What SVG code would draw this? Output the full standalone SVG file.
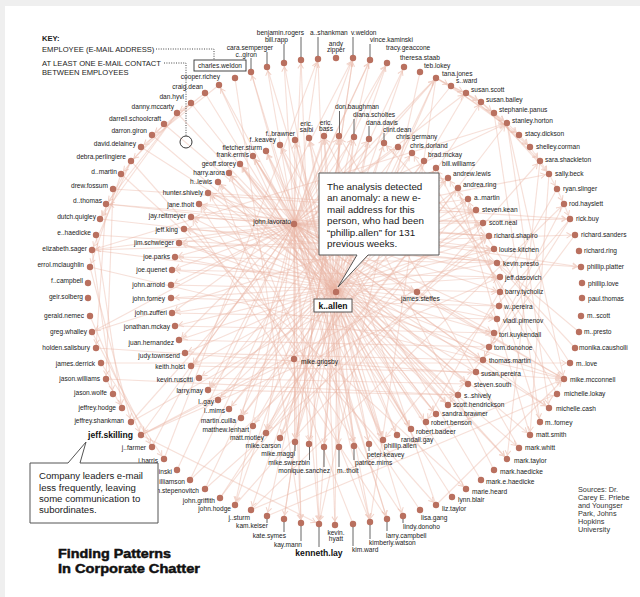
<svg xmlns="http://www.w3.org/2000/svg" width="640" height="597" viewBox="0 0 640 597">
<defs>
<style>
text{font-family:"Liberation Sans",Arial,Helvetica,sans-serif;fill:#222}
.l{font-size:6.6px}
.r{text-anchor:end}
.m{text-anchor:middle}
.b{font-weight:bold;font-size:8.6px;fill:#111}
.n circle{fill:#b9705f}
.ld{stroke:#555;stroke-width:0.9}
.e line{stroke:#e9b5a5;stroke-opacity:0.42;stroke-width:1.15;marker-end:url(#ah)}
.key{font-size:7.6px;fill:#222}
.dot{fill:none;stroke:#333;stroke-width:0.9;stroke-dasharray:1 1.4}
.co{fill:#fff;stroke:#555;stroke-width:1}
.ct{font-size:9.8px;fill:#1a1a1a}
.cl{font-size:9.6px;fill:#1a1a1a}
.src{font-size:7.3px;fill:#333}
.ttl{font-size:13px;font-weight:bold;fill:#111;stroke:#111;stroke-width:0.5}
</style>
<marker id="ah" markerUnits="userSpaceOnUse" markerWidth="10" markerHeight="10" refX="9" refY="5" orient="auto" overflow="visible">
<path d="M0.5,2.2 L5,5 L0.5,7.8" fill="none" stroke="#f1d2c8" stroke-width="1"/>
</marker>
</defs>

<rect width="640" height="597" fill="#efefef"/>
<rect x="5" y="6" width="635" height="591" fill="#fff"/>

<!-- e-mail contacts between employees -->
<g id="connectors" class="e">
<!-- john.lavorato fan -->
<line x1="294" y1="224" x2="267" y2="67"/><line x1="294" y1="224" x2="284" y2="63"/><line x1="294" y1="224" x2="301" y2="60"/><line x1="294" y1="224" x2="318" y2="59"/><line x1="294" y1="224" x2="353" y2="58"/><line x1="294" y1="224" x2="370" y2="60"/><line x1="294" y1="224" x2="387" y2="63"/><line x1="294" y1="224" x2="251" y2="72"/><line x1="294" y1="224" x2="219" y2="85"/><line x1="294" y1="224" x2="436" y2="78"/><line x1="294" y1="224" x2="466" y2="93"/><line x1="294" y1="224" x2="507" y2="123"/>
<line x1="294" y1="224" x2="339" y2="136"/><line x1="294" y1="224" x2="354" y2="137"/><line x1="294" y1="224" x2="369" y2="139"/><line x1="294" y1="224" x2="398" y2="147"/><line x1="294" y1="224" x2="295" y2="140"/><line x1="294" y1="224" x2="324" y2="136"/><line x1="294" y1="224" x2="266" y2="151"/><line x1="294" y1="224" x2="253" y2="156"/><line x1="294" y1="224" x2="240" y2="164"/><line x1="294" y1="224" x2="208" y2="193"/><line x1="294" y1="224" x2="199" y2="204"/><line x1="294" y1="224" x2="191" y2="217"/><line x1="294" y1="224" x2="184" y2="229"/><line x1="294" y1="224" x2="179" y2="243"/><line x1="294" y1="224" x2="175" y2="257"/><line x1="294" y1="224" x2="172" y2="270"/><line x1="294" y1="224" x2="171" y2="285"/>
<line x1="294" y1="224" x2="448" y2="178"/><line x1="294" y1="224" x2="468" y2="199"/><line x1="294" y1="224" x2="476" y2="210"/><line x1="294" y1="224" x2="483" y2="223"/><line x1="294" y1="224" x2="489" y2="236"/><line x1="294" y1="224" x2="494" y2="249"/><line x1="294" y1="224" x2="497" y2="263"/><line x1="294" y1="224" x2="500" y2="277"/><line x1="294" y1="224" x2="500" y2="292"/><line x1="294" y1="224" x2="497" y2="319"/><line x1="294" y1="224" x2="494" y2="333"/><line x1="294" y1="224" x2="483" y2="360"/><line x1="294" y1="224" x2="468" y2="384"/><line x1="294" y1="224" x2="448" y2="405"/>
<line x1="294" y1="224" x2="411" y2="429"/><line x1="294" y1="224" x2="383" y2="440"/><line x1="294" y1="224" x2="354" y2="446"/><line x1="294" y1="224" x2="309" y2="444"/><line x1="294" y1="224" x2="295" y2="442"/><line x1="294" y1="224" x2="266" y2="433"/><line x1="294" y1="224" x2="241" y2="418"/><line x1="294" y1="224" x2="208" y2="390"/><line x1="294" y1="224" x2="191" y2="366"/><line x1="294" y1="224" x2="179" y2="340"/><line x1="294" y1="224" x2="172" y2="313"/>
<line x1="294" y1="224" x2="319" y2="524"/><line x1="294" y1="224" x2="370" y2="522"/><line x1="294" y1="224" x2="387" y2="519"/><line x1="294" y1="224" x2="301" y2="523"/><line x1="294" y1="224" x2="235" y2="505"/><line x1="294" y1="224" x2="141" y2="435"/><line x1="294" y1="224" x2="92" y2="332"/><line x1="294" y1="224" x2="92" y2="250"/><line x1="294" y1="224" x2="106" y2="204"/><line x1="294" y1="224" x2="570" y2="219"/><line x1="294" y1="224" x2="564" y2="379"/><line x1="294" y1="224" x2="549" y2="174"/><line x1="294" y1="224" x2="581" y2="267"/><line x1="294" y1="224" x2="549" y2="408"/><line x1="294" y1="224" x2="507" y2="459"/>
<line x1="294" y1="224" x2="294" y2="359"/><line x1="294" y1="224" x2="336" y2="292"/><line x1="294" y1="224" x2="417" y2="292"/>
<!-- left side of the outer ring -->
<line x1="191" y1="103" x2="131" y2="161"/><line x1="177" y1="113" x2="106" y2="204"/><line x1="177" y1="113" x2="100" y2="219"/><line x1="164" y1="124" x2="121" y2="174"/><line x1="131" y1="161" x2="92" y2="250"/><line x1="131" y1="161" x2="100" y2="219"/><line x1="121" y1="174" x2="90" y2="267"/><line x1="113" y1="189" x2="106" y2="379"/><line x1="106" y1="204" x2="96" y2="348"/><line x1="96" y1="235" x2="122" y2="408"/><line x1="92" y1="250" x2="113" y2="394"/><line x1="90" y1="267" x2="131" y2="422"/><line x1="90" y1="316" x2="141" y2="435"/><line x1="92" y1="332" x2="152" y2="447"/><line x1="101" y1="363" x2="164" y2="459"/><line x1="106" y1="379" x2="122" y2="408"/><line x1="219" y1="85" x2="141" y2="147"/><line x1="205" y1="93" x2="152" y2="135"/><line x1="191" y1="103" x2="177" y2="113"/>
<!-- long chords across the ring -->
<line x1="113" y1="189" x2="570" y2="219"/><line x1="92" y1="250" x2="575" y2="235"/><line x1="92" y1="250" x2="507" y2="123"/><line x1="90" y1="267" x2="564" y2="379"/><line x1="106" y1="204" x2="489" y2="236"/><line x1="100" y1="219" x2="497" y2="263"/><line x1="96" y1="235" x2="581" y2="267"/><line x1="92" y1="332" x2="476" y2="210"/><line x1="96" y1="348" x2="564" y2="379"/><line x1="101" y1="363" x2="570" y2="363"/><line x1="106" y1="379" x2="458" y2="395"/><line x1="131" y1="422" x2="483" y2="223"/><line x1="131" y1="422" x2="436" y2="78"/><line x1="141" y1="435" x2="500" y2="277"/><line x1="141" y1="435" x2="494" y2="249"/><line x1="141" y1="435" x2="319" y2="524"/><line x1="152" y1="447" x2="353" y2="58"/><line x1="164" y1="459" x2="318" y2="59"/><line x1="177" y1="470" x2="370" y2="60"/><line x1="190" y1="480" x2="387" y2="63"/><line x1="205" y1="489" x2="404" y2="67"/><line x1="205" y1="489" x2="489" y2="236"/><line x1="190" y1="480" x2="476" y2="210"/><line x1="220" y1="498" x2="507" y2="123"/><line x1="220" y1="498" x2="481" y2="102"/><line x1="235" y1="505" x2="540" y2="161"/><line x1="251" y1="510" x2="564" y2="379"/><line x1="251" y1="510" x2="564" y2="204"/><line x1="267" y1="516" x2="557" y2="394"/><line x1="284" y1="519" x2="353" y2="58"/>
<line x1="301" y1="60" x2="319" y2="524"/><line x1="318" y1="59" x2="335" y2="525"/><line x1="284" y1="63" x2="370" y2="522"/><line x1="251" y1="72" x2="387" y2="519"/><line x1="267" y1="67" x2="403" y2="516"/><line x1="235" y1="78" x2="301" y2="523"/><line x1="353" y1="58" x2="284" y2="519"/><line x1="370" y1="60" x2="267" y2="516"/><line x1="387" y1="63" x2="235" y2="505"/><line x1="404" y1="67" x2="251" y2="510"/><line x1="420" y1="72" x2="319" y2="524"/><line x1="436" y1="78" x2="370" y2="522"/><line x1="436" y1="78" x2="280" y2="438"/><line x1="466" y1="93" x2="266" y2="433"/><line x1="451" y1="86" x2="208" y2="390"/><line x1="219" y1="85" x2="383" y2="440"/><line x1="205" y1="93" x2="411" y2="429"/><line x1="191" y1="103" x2="436" y2="414"/><line x1="177" y1="113" x2="507" y2="459"/><line x1="164" y1="124" x2="530" y2="435"/><line x1="152" y1="135" x2="519" y2="448"/><line x1="141" y1="147" x2="549" y2="408"/><line x1="131" y1="161" x2="436" y2="505"/><line x1="121" y1="174" x2="466" y2="489"/>
<!-- right side of the outer ring -->
<line x1="436" y1="78" x2="451" y2="86"/><line x1="451" y1="86" x2="466" y2="93"/><line x1="466" y1="93" x2="481" y2="102"/><line x1="481" y1="102" x2="494" y2="113"/><line x1="494" y1="113" x2="507" y2="123"/><line x1="507" y1="123" x2="519" y2="135"/><line x1="519" y1="135" x2="530" y2="147"/><line x1="530" y1="147" x2="540" y2="161"/><line x1="540" y1="161" x2="549" y2="174"/><line x1="549" y1="174" x2="557" y2="189"/><line x1="557" y1="189" x2="564" y2="204"/><line x1="564" y1="204" x2="570" y2="219"/><line x1="436" y1="78" x2="507" y2="123"/><line x1="451" y1="86" x2="519" y2="135"/><line x1="466" y1="93" x2="530" y2="147"/><line x1="481" y1="102" x2="540" y2="161"/><line x1="494" y1="113" x2="549" y2="174"/><line x1="436" y1="78" x2="481" y2="102"/>
<line x1="507" y1="123" x2="564" y2="379"/><line x1="507" y1="123" x2="549" y2="408"/><line x1="494" y1="113" x2="540" y2="422"/><line x1="540" y1="161" x2="507" y2="459"/><line x1="549" y1="174" x2="530" y2="435"/><line x1="570" y1="219" x2="489" y2="347"/><line x1="564" y1="204" x2="483" y2="360"/><line x1="575" y1="235" x2="448" y2="405"/><line x1="570" y1="219" x2="383" y2="440"/><line x1="557" y1="189" x2="426" y2="422"/><line x1="570" y1="363" x2="448" y2="178"/><line x1="564" y1="379" x2="412" y2="153"/><line x1="575" y1="348" x2="384" y2="143"/><line x1="579" y1="332" x2="497" y2="263"/><line x1="557" y1="394" x2="436" y2="168"/><line x1="540" y1="422" x2="468" y2="199"/><line x1="530" y1="435" x2="458" y2="188"/><line x1="519" y1="448" x2="339" y2="136"/><line x1="494" y1="470" x2="324" y2="136"/><line x1="481" y1="480" x2="280" y2="145"/><line x1="466" y1="489" x2="253" y2="156"/><line x1="452" y1="497" x2="240" y2="164"/><line x1="436" y1="505" x2="309" y2="138"/><line x1="420" y1="510" x2="208" y2="193"/><line x1="403" y1="516" x2="199" y2="204"/><line x1="387" y1="519" x2="191" y2="217"/><line x1="370" y1="522" x2="229" y2="173"/><line x1="353" y1="524" x2="218" y2="182"/><line x1="335" y1="525" x2="339" y2="136"/><line x1="436" y1="505" x2="564" y2="379"/>
<!-- chords of the inner ring -->
<line x1="208" y1="193" x2="476" y2="210"/><line x1="199" y1="204" x2="483" y2="223"/><line x1="191" y1="217" x2="489" y2="236"/><line x1="184" y1="229" x2="494" y2="249"/><line x1="179" y1="243" x2="564" y2="379"/><line x1="175" y1="257" x2="497" y2="263"/><line x1="172" y1="270" x2="500" y2="277"/><line x1="171" y1="285" x2="500" y2="292"/><line x1="171" y1="298" x2="499" y2="306"/><line x1="172" y1="313" x2="497" y2="319"/><line x1="175" y1="326" x2="494" y2="333"/><line x1="179" y1="340" x2="489" y2="347"/><line x1="185" y1="353" x2="483" y2="360"/><line x1="191" y1="366" x2="476" y2="372"/><line x1="199" y1="378" x2="468" y2="384"/><line x1="208" y1="390" x2="458" y2="395"/>
<line x1="218" y1="400" x2="412" y2="153"/><line x1="229" y1="409" x2="424" y2="161"/><line x1="241" y1="418" x2="436" y2="168"/><line x1="253" y1="426" x2="448" y2="178"/><line x1="266" y1="433" x2="458" y2="188"/><line x1="280" y1="438" x2="468" y2="199"/><line x1="295" y1="442" x2="384" y2="143"/><line x1="309" y1="444" x2="369" y2="139"/><line x1="324" y1="447" x2="354" y2="137"/><line x1="339" y1="447" x2="339" y2="136"/><line x1="354" y1="446" x2="324" y2="136"/><line x1="369" y1="444" x2="309" y2="138"/><line x1="383" y1="440" x2="295" y2="140"/><line x1="397" y1="435" x2="280" y2="145"/><line x1="411" y1="429" x2="266" y2="151"/><line x1="426" y1="422" x2="253" y2="156"/><line x1="436" y1="414" x2="240" y2="164"/><line x1="448" y1="405" x2="229" y2="173"/><line x1="458" y1="395" x2="218" y2="182"/><line x1="468" y1="384" x2="208" y2="193"/><line x1="476" y1="372" x2="199" y2="204"/><line x1="483" y1="360" x2="191" y2="217"/><line x1="489" y1="347" x2="184" y2="229"/><line x1="494" y1="333" x2="179" y2="243"/><line x1="497" y1="319" x2="175" y2="257"/><line x1="499" y1="306" x2="172" y2="270"/><line x1="500" y1="277" x2="171" y2="298"/><line x1="497" y1="263" x2="172" y2="313"/><line x1="494" y1="249" x2="175" y2="326"/><line x1="489" y1="236" x2="179" y2="340"/><line x1="483" y1="223" x2="185" y2="353"/><line x1="476" y1="210" x2="191" y2="366"/><line x1="468" y1="199" x2="199" y2="378"/><line x1="458" y1="188" x2="208" y2="390"/><line x1="448" y1="178" x2="218" y2="400"/><line x1="436" y1="168" x2="229" y2="409"/><line x1="424" y1="161" x2="241" y2="418"/><line x1="412" y1="153" x2="253" y2="426"/><line x1="398" y1="147" x2="266" y2="433"/><line x1="384" y1="143" x2="280" y2="438"/><line x1="369" y1="139" x2="295" y2="442"/><line x1="354" y1="137" x2="309" y2="444"/><line x1="339" y1="136" x2="324" y2="447"/><line x1="324" y1="136" x2="339" y2="447"/><line x1="309" y1="138" x2="354" y2="446"/><line x1="295" y1="140" x2="369" y2="444"/><line x1="280" y1="145" x2="383" y2="440"/><line x1="266" y1="151" x2="397" y2="435"/><line x1="253" y1="156" x2="411" y2="429"/><line x1="240" y1="164" x2="426" y2="422"/><line x1="229" y1="173" x2="436" y2="414"/><line x1="218" y1="182" x2="448" y2="405"/>
<!-- central nodes -->
<line x1="436" y1="78" x2="336" y2="292"/><line x1="336" y1="292" x2="319" y2="524"/><line x1="294" y1="359" x2="295" y2="442"/><line x1="294" y1="359" x2="301" y2="523"/><line x1="417" y1="292" x2="489" y2="236"/><line x1="417" y1="292" x2="564" y2="379"/><line x1="141" y1="435" x2="294" y2="359"/><line x1="92" y1="250" x2="417" y2="292"/>
</g>

<!-- key -->
<g id="key">
<text x="42" y="41" class="key" font-weight="bold">KEY:</text>
<text x="42" y="52" class="key">EMPLOYEE (E-MAIL ADDRESS)</text>
<text x="42" y="66" class="key">AT LEAST ONE E-MAIL CONTACT</text>
<text x="42" y="75" class="key">BETWEEN EMPLOYEES</text>
<path class="dot" d="M156,49 H214 V60"/>
<path class="dot" d="M164,63 H186 V136"/>
<circle cx="186" cy="142" r="6" fill="none" stroke="#222" stroke-width="0.9"/>
</g>

<!-- outer ring of employees -->
<g class="n">
<g id="cooper.richey"><circle cx="219" cy="85" r="3.2"/><text class="l r" x="220" y="79.3">cooper.richey</text></g>
<g id="craig.dean"><circle cx="205" cy="93" r="3.2"/><text class="l r" x="203" y="89.3">craig.dean</text></g>
<g id="dan.hyvl"><circle cx="191" cy="103" r="3.2"/><text class="l r" x="184" y="99.3">dan.hyvl</text></g>
<g id="danny.mccarty"><circle cx="177" cy="113" r="3.2"/><text class="l r" x="174" y="109.3">danny.mccarty</text></g>
<g id="darrell.schoolcraft"><circle cx="164" cy="124" r="3.2"/><text class="l r" x="161" y="121.3">darrell.schoolcraft</text></g>
<g id="darron.giron"><circle cx="152" cy="135" r="3.2"/><text class="l r" x="147" y="133.3">darron.giron</text></g>
<g id="david.delainey"><circle cx="141" cy="147" r="3.2"/><text class="l r" x="136" y="146.3">david.delainey</text></g>
<g id="debra.perlingiere"><circle cx="131" cy="161" r="3.2"/><text class="l r" x="126" y="159.3">debra.perlingiere</text></g>
<g id="d..martin"><circle cx="121" cy="174" r="3.2"/><text class="l r" x="117" y="173.6">d..martin</text></g>
<g id="drew.fossum"><circle cx="113" cy="189" r="3.2"/><text class="l r" x="108" y="188">drew.fossum</text></g>
<g id="d..thomas"><circle cx="106" cy="204" r="3.2"/><text class="l r" x="102" y="203">d..thomas</text></g>
<g id="dutch.quigley"><circle cx="100" cy="219" r="3.2"/><text class="l r" x="96" y="219">dutch.quigley</text></g>
<g id="e..haedicke"><circle cx="96" cy="235" r="3.2"/><text class="l r" x="91" y="234.6">e..haedicke</text></g>
<g id="elizabeth.sager"><circle cx="92" cy="250" r="3.2"/><text class="l r" x="87" y="251.3">elizabeth.sager</text></g>
<g id="errol.mclaughlin"><circle cx="90" cy="267" r="3.2"/><text class="l r" x="84" y="266.6">errol.mclaughlin</text></g>
<g id="f..campbell"><circle cx="88" cy="283" r="3.2"/><text class="l r" x="83" y="283">f..campbell</text></g>
<g id="geir.solberg"><circle cx="88" cy="298" r="3.2"/><text class="l r" x="83" y="299">geir.solberg</text></g>
<g id="gerald.nemec"><circle cx="90" cy="316" r="3.2"/><text class="l r" x="84" y="318">gerald.nemec</text></g>
<g id="greg.whalley"><circle cx="92" cy="332" r="3.2"/><text class="l r" x="87" y="334">greg.whalley</text></g>
<g id="holden.salisbury"><circle cx="96" cy="348" r="3.2"/><text class="l r" x="90" y="350.3">holden.salisbury</text></g>
<g id="james.derrick"><circle cx="101" cy="363" r="3.2"/><text class="l r" x="95" y="365.6">james.derrick</text></g>
<g id="jason.williams"><circle cx="106" cy="379" r="3.2"/><text class="l r" x="100" y="381">jason.williams</text></g>
<g id="jason.wolfe"><circle cx="113" cy="394" r="3.2"/><text class="l r" x="107" y="395.3">jason.wolfe</text></g>
<g id="jeffrey.hodge"><circle cx="122" cy="408" r="3.2"/><text class="l r" x="116" y="410">jeffrey.hodge</text></g>
<g id="jeffrey.shankman"><circle cx="131" cy="422" r="3.2"/><text class="l r" x="124" y="423">jeffrey.shankman</text></g>
<g id="jeff.skilling"><circle cx="141" cy="435" r="3.2"/><text class="b r" x="133" y="438.3">jeff.skilling</text></g>
<g id="j..farmer"><circle cx="152" cy="447" r="3.2"/><text class="l r" x="146" y="450.3">j..farmer</text></g>
<g id="j.harris"><circle cx="164" cy="459" r="3.2"/><text class="l r" x="158" y="462.6">j.harris</text></g>
<g id="n-inski"><circle cx="177" cy="470" r="3.2"/><text class="l r" x="172" y="473.6">inski</text></g>
<g id="n-illiamson"><circle cx="190" cy="480" r="3.2"/><text class="l r" x="185" y="484.3">illiamson</text></g>
<g id="n-stepenovitch"><circle cx="205" cy="489" r="3.2"/><text class="l r" x="199" y="493.3">n.stepenovitch</text></g>
<g id="john.griffith"><circle cx="220" cy="498" r="3.2"/><text class="l r" x="215" y="502.6">john.griffith</text></g>
<g id="john.hodge"><circle cx="235" cy="505" r="3.2"/><text class="l r" x="231" y="511">john.hodge</text></g>
<g id="j..sturm"><circle cx="251" cy="510" r="3.2"/><text class="l r" x="250" y="520.3">j..sturm</text></g>
<g id="kam.keiser"><circle cx="267" cy="516" r="3.2"/><line class="ld" x1="267" y1="519" x2="267" y2="523"/><text class="l r" x="268" y="528.3">kam.keiser</text></g>
<g id="kate.symes"><circle cx="284" cy="519" r="3.2"/><line class="ld" x1="284" y1="522" x2="284" y2="532"/><text class="l r" x="286" y="537.6">kate.symes</text></g>
<g id="kay.mann"><circle cx="301" cy="523" r="3.2"/><line class="ld" x1="301" y1="526" x2="301" y2="541"/><text class="l r" x="302" y="546.6">kay.mann</text></g>
<g id="kenneth.lay"><circle cx="319" cy="524" r="3.2"/><line class="ld" x1="319" y1="527" x2="319" y2="547"/><text class="b m" x="319" y="556.3">kenneth.lay</text></g>
<g id="kevin.hyatt"><circle cx="335" cy="525" r="3.2"/><text class="l m" x="336" y="535.3">kevin.</text><text class="l m" x="336" y="541.3">hyatt</text></g>
<g id="kim.ward"><circle cx="353" cy="524" r="3.2"/><line class="ld" x1="353" y1="527" x2="353" y2="546"/><text class="l" x="352" y="552">kim.ward</text></g>
<g id="kimberly.watson"><circle cx="370" cy="522" r="3.2"/><line class="ld" x1="370" y1="525" x2="370" y2="539"/><text class="l" x="369" y="545.3">kimberly.watson</text></g>
<g id="larry.campbell"><circle cx="387" cy="519" r="3.2"/><line class="ld" x1="387" y1="522" x2="387" y2="531"/><text class="l" x="386" y="537.6">larry.campbell</text></g>
<g id="lindy.donoho"><circle cx="403" cy="516" r="3.2"/><line class="ld" x1="403" y1="519" x2="403" y2="523"/><text class="l" x="403" y="529.3">lindy.donoho</text></g>
<g id="lisa.gang"><circle cx="420" cy="510" r="3.2"/><text class="l" x="421" y="520.3">lisa.gang</text></g>
<g id="liz.taylor"><circle cx="436" cy="505" r="3.2"/><text class="l" x="442" y="511">liz.taylor</text></g>
<g id="lynn.blair"><circle cx="452" cy="497" r="3.2"/><text class="l" x="458" y="502">lynn.blair</text></g>
<g id="marie.heard"><circle cx="466" cy="489" r="3.2"/><text class="l" x="472" y="494.3">marie.heard</text></g>
<g id="mark.e.haedicke"><circle cx="481" cy="480" r="3.2"/><text class="l" x="486" y="484">mark.e.haedicke</text></g>
<g id="mark.haedicke"><circle cx="494" cy="470" r="3.2"/><text class="l" x="500" y="473.6">mark.haedicke</text></g>
<g id="mark.taylor"><circle cx="507" cy="459" r="3.2"/><text class="l" x="514" y="462.6">mark.taylor</text></g>
<g id="mark.whitt"><circle cx="519" cy="448" r="3.2"/><text class="l" x="525" y="450.3">mark.whitt</text></g>
<g id="matt.smith"><circle cx="530" cy="435" r="3.2"/><text class="l" x="536" y="437.3">matt.smith</text></g>
<g id="m..forney"><circle cx="540" cy="422" r="3.2"/><text class="l" x="545" y="425">m..forney</text></g>
<g id="michelle.cash"><circle cx="549" cy="408" r="3.2"/><text class="l" x="556" y="410.6">michelle.cash</text></g>
<g id="michelle.lokay"><circle cx="557" cy="394" r="3.2"/><text class="l" x="564" y="396.3">michelle.lokay</text></g>
<g id="mike.mcconnell"><circle cx="564" cy="379" r="3.2"/><text class="l" x="570" y="381.6">mike.mcconnell</text></g>
<g id="m..love"><circle cx="570" cy="363" r="3.2"/><text class="l" x="576" y="365.6">m..love</text></g>
<g id="monika.causholli"><circle cx="575" cy="348" r="3.2"/><text class="l" x="579" y="350.3">monika.causholli</text></g>
<g id="m..presto"><circle cx="579" cy="332" r="3.2"/><text class="l" x="584" y="334.3">m..presto</text></g>
<g id="m..scott"><circle cx="581" cy="316" r="3.2"/><text class="l" x="587" y="318">m..scott</text></g>
<g id="paul.thomas"><circle cx="582" cy="298" r="3.2"/><text class="l" x="588" y="300.6">paul.thomas</text></g>
<g id="phillip.love"><circle cx="582" cy="283" r="3.2"/><text class="l" x="588" y="285.6">phillip.love</text></g>
<g id="phillip.platter"><circle cx="581" cy="267" r="3.2"/><text class="l" x="587" y="269">phillip.platter</text></g>
<g id="richard.ring"><circle cx="579" cy="251" r="3.2"/><text class="l" x="584" y="253">richard.ring</text></g>
<g id="richard.sanders"><circle cx="575" cy="235" r="3.2"/><text class="l" x="581" y="236.6">richard.sanders</text></g>
<g id="rick.buy"><circle cx="570" cy="219" r="3.2"/><text class="l" x="576" y="221.3">rick.buy</text></g>
<g id="rod.hayslett"><circle cx="564" cy="204" r="3.2"/><text class="l" x="569" y="205.6">rod.hayslett</text></g>
<g id="ryan.slinger"><circle cx="557" cy="189" r="3.2"/><text class="l" x="563" y="191">ryan.slinger</text></g>
<g id="sally.beck"><circle cx="549" cy="174" r="3.2"/><text class="l" x="555" y="176.3">sally.beck</text></g>
<g id="sara.shackleton"><circle cx="540" cy="161" r="3.2"/><text class="l" x="545" y="162.3">sara.shackleton</text></g>
<g id="shelley.corman"><circle cx="530" cy="147" r="3.2"/><text class="l" x="536" y="149">shelley.corman</text></g>
<g id="stacy.dickson"><circle cx="519" cy="135" r="3.2"/><text class="l" x="525" y="136.3">stacy.dickson</text></g>
<g id="stanley.horton"><circle cx="507" cy="123" r="3.2"/><text class="l" x="512" y="123.3">stanley.horton</text></g>
<g id="stephanie.panus"><circle cx="494" cy="113" r="3.2"/><text class="l" x="499" y="112">stephanie.panus</text></g>
<g id="susan.bailey"><circle cx="481" cy="102" r="3.2"/><text class="l" x="486" y="101.6">susan.bailey</text></g>
<g id="susan.scott"><circle cx="466" cy="93" r="3.2"/><text class="l" x="471" y="92.3">susan.scott</text></g>
<g id="s..ward"><circle cx="451" cy="86" r="3.2"/><text class="l" x="456" y="83.3">s..ward</text></g>
<g id="tana.jones"><circle cx="436" cy="78" r="3.2"/><text class="l" x="442" y="75.6">tana.jones</text></g>
<g id="teb.lokey"><circle cx="420" cy="72" r="3.2"/><text class="l" x="424" y="68.3">teb.lokey</text></g>
<g id="theresa.staab"><circle cx="404" cy="67" r="3.2"/><text class="l" x="400" y="60">theresa.staab</text></g>
<g id="tracy.geaccone"><circle cx="387" cy="63" r="3.2"/><text class="l" x="386" y="50">tracy.geaccone</text></g>
<g id="vince.kaminski"><circle cx="370" cy="60" r="3.2"/><line class="ld" x1="370" y1="44" x2="370" y2="57"/><text class="l" x="370" y="42.3">vince.kaminski</text></g>
<g id="v.weldon"><circle cx="353" cy="58" r="3.2"/><line class="ld" x1="353" y1="37" x2="353" y2="55"/><text class="l" x="351" y="34.6">v.weldon</text></g>
<g id="andy.zipper"><circle cx="336" cy="58" r="3.2"/><text class="l m" x="336" y="45.6">andy</text><text class="l m" x="336" y="51.6">zipper</text></g>
<g id="a..shankman"><circle cx="318" cy="59" r="3.2"/><line class="ld" x1="318" y1="37" x2="318" y2="56"/><text class="l" x="310" y="34.6">a..shankman</text></g>
<g id="benjamin.rogers"><circle cx="301" cy="60" r="3.2"/><line class="ld" x1="301" y1="37" x2="301" y2="57"/><text class="l r" x="304" y="34.6">benjamin.rogers</text></g>
<g id="bill.rapp"><circle cx="284" cy="63" r="3.2"/><line class="ld" x1="284" y1="44" x2="284" y2="60"/><text class="l r" x="288" y="42.3">bill.rapp</text></g>
<g id="cara.semperger"><circle cx="267" cy="67" r="3.2"/><line class="ld" x1="267" y1="52" x2="267" y2="64"/><text class="l r" x="273" y="50">cara.semperger</text></g>
<g id="c..giron"><circle cx="251" cy="72" r="3.2"/><line class="ld" x1="251" y1="58" x2="251" y2="69"/><text class="l r" x="257" y="56.6">c..giron</text></g>
<g id="charles.weldon"><circle cx="235" cy="78" r="3.2"/><rect x="194" y="60" width="52" height="11" fill="#fff" stroke="#333" stroke-width="0.9"/><text class="l m" x="220" y="67.6">charles.weldon</text></g>
</g>

<!-- inner ring of employees -->
<g class="n">
<g id="fletcher.sturm"><circle cx="266" cy="151" r="3.2"/><text class="l r" x="262" y="149.6">fletcher.sturm</text></g>
<g id="f..keavey"><circle cx="280" cy="145" r="3.2"/><text class="l r" x="276" y="142.3">f..keavey</text></g>
<g id="f..brawner"><circle cx="295" cy="140" r="3.2"/><text class="l r" x="295" y="135.6">f..brawner</text></g>
<g id="eric.saibi"><circle cx="309" cy="138" r="3.2"/><text class="l m" x="306.5" y="126.3">eric.</text><text class="l m" x="306.5" y="132.3">saibi</text></g>
<g id="eric.bass"><circle cx="324" cy="136" r="3.2"/><text class="l m" x="326" y="125">eric.</text><text class="l m" x="326" y="130.6">bass</text></g>
<g id="don.baughman"><circle cx="339" cy="136" r="3.2"/><line class="ld" x1="339.5" y1="111" x2="339.5" y2="133"/><text class="l" x="335" y="109">don.baughman</text></g>
<g id="diana.scholtes"><circle cx="354" cy="137" r="3.2"/><line class="ld" x1="354" y1="119" x2="354" y2="134"/><text class="l" x="353" y="117.3">diana.scholtes</text></g>
<g id="dana.davis"><circle cx="369" cy="139" r="3.2"/><line class="ld" x1="369" y1="126" x2="369" y2="136"/><text class="l" x="366" y="124.6">dana.davis</text></g>
<g id="clint.dean"><circle cx="384" cy="143" r="3.2"/><line class="ld" x1="384" y1="133" x2="384" y2="140"/><text class="l" x="383" y="131.6">clint.dean</text></g>
<g id="chris.germany"><circle cx="398" cy="147" r="3.2"/><text class="l" x="396" y="139">chris.germany</text></g>
<g id="chris.dorland"><circle cx="412" cy="153" r="3.2"/><text class="l" x="410" y="148">chris.dorland</text></g>
<g id="brad.mckay"><circle cx="424" cy="161" r="3.2"/><text class="l" x="428" y="157">brad.mckay</text></g>
<g id="bill.williams"><circle cx="436" cy="168" r="3.2"/><text class="l" x="442" y="166.3">bill.williams</text></g>
<g id="andrew.lewis"><circle cx="448" cy="178" r="3.2"/><text class="l" x="453" y="176.3">andrew.lewis</text></g>
<g id="andrea.ring"><circle cx="458" cy="188" r="3.2"/><text class="l" x="463" y="187.3">andrea.ring</text></g>
<g id="a..martin"><circle cx="468" cy="199" r="3.2"/><text class="l" x="474" y="200">a..martin</text></g>
<g id="steven.kean"><circle cx="476" cy="210" r="3.2"/><text class="l" x="482" y="212.3">steven.kean</text></g>
<g id="scott.neal"><circle cx="483" cy="223" r="3.2"/><text class="l" x="489" y="225.3">scott.neal</text></g>
<g id="richard.shapiro"><circle cx="489" cy="236" r="3.2"/><text class="l" x="494" y="238.3">richard.shapiro</text></g>
<g id="louise.kitchen"><circle cx="494" cy="249" r="3.2"/><text class="l" x="499" y="251.6">louise.kitchen</text></g>
<g id="kevin.presto"><circle cx="497" cy="263" r="3.2"/><text class="l" x="503" y="265.6">kevin.presto</text></g>
<g id="jeff.dasovich"><circle cx="500" cy="277" r="3.2"/><text class="l" x="505" y="279.6">jeff.dasovich</text></g>
<g id="barry.tycholiz"><circle cx="500" cy="292" r="3.2"/><text class="l" x="505" y="294">barry.tycholiz</text></g>
<g id="w..pereira"><circle cx="499" cy="306" r="3.2"/><text class="l" x="504" y="308.6">w..pereira</text></g>
<g id="vladi.pimenov"><circle cx="497" cy="319" r="3.2"/><text class="l" x="503" y="323">vladi.pimenov</text></g>
<g id="tori.kuykendall"><circle cx="494" cy="333" r="3.2"/><text class="l" x="499" y="336.6">tori.kuykendall</text></g>
<g id="tom.donohoe"><circle cx="489" cy="347" r="3.2"/><text class="l" x="494" y="350">tom.donohoe</text></g>
<g id="thomas.martin"><circle cx="483" cy="360" r="3.2"/><text class="l" x="489" y="363">thomas.martin</text></g>
<g id="susan.pereira"><circle cx="476" cy="372" r="3.2"/><text class="l" x="481" y="375.6">susan.pereira</text></g>
<g id="steven.south"><circle cx="468" cy="384" r="3.2"/><text class="l" x="474" y="386.6">steven.south</text></g>
<g id="s..shively"><circle cx="458" cy="395" r="3.2"/><text class="l" x="464" y="397.6">s..shively</text></g>
<g id="scott.hendrickson"><circle cx="448" cy="405" r="3.2"/><text class="l" x="453" y="407.3">scott.hendrickson</text></g>
<g id="sandra.brawner"><circle cx="436" cy="414" r="3.2"/><text class="l" x="442" y="416.3">sandra.brawner</text></g>
<g id="robert.benson"><circle cx="426" cy="422" r="3.2"/><text class="l" x="431" y="424.6">robert.benson</text></g>
<g id="robert.badeer"><circle cx="411" cy="429" r="3.2"/><text class="l" x="416" y="434">robert.badeer</text></g>
<g id="randall.gay"><circle cx="397" cy="435" r="3.2"/><text class="l" x="401" y="441.6">randall.gay</text></g>
<g id="phillip.allen"><circle cx="383" cy="440" r="3.2"/><text class="l" x="384" y="448">phillip.allen</text></g>
<g id="peter.keavey"><circle cx="369" cy="444" r="3.2"/><line class="ld" x1="369" y1="447" x2="369" y2="451"/><text class="l" x="367" y="456.6">peter.keavey</text></g>
<g id="patrice.mims"><circle cx="354" cy="446" r="3.2"/><line class="ld" x1="354" y1="449" x2="354" y2="460"/><text class="l" x="355" y="465">patrice.mims</text></g>
<g id="m..tholt"><circle cx="339" cy="447" r="3.2"/><line class="ld" x1="339" y1="450" x2="339" y2="467"/><text class="l" x="337" y="472.6">m..tholt</text></g>
<g id="monique.sanchez"><circle cx="324" cy="447" r="3.2"/><line class="ld" x1="324" y1="450" x2="324" y2="467"/><text class="l r" x="330" y="472.6">monique.sanchez</text></g>
<g id="mike.swerzbin"><circle cx="309" cy="444" r="3.2"/><line class="ld" x1="309.5" y1="447" x2="309.5" y2="460"/><text class="l r" x="310" y="465">mike.swerzbin</text></g>
<g id="mike.maggi"><circle cx="295" cy="442" r="3.2"/><line class="ld" x1="295" y1="445" x2="295" y2="451"/><text class="l r" x="295" y="456">mike.maggi</text></g>
<g id="mike.carson"><circle cx="280" cy="438" r="3.2"/><text class="l r" x="281" y="448">mike.carson</text></g>
<g id="matt.motley"><circle cx="266" cy="433" r="3.2"/><text class="l r" x="264" y="439.6">matt.motley</text></g>
<g id="matthew.lenhart"><circle cx="253" cy="426" r="3.2"/><text class="l r" x="249" y="432.3">matthew.lenhart</text></g>
<g id="martin.cuilla"><circle cx="241" cy="418" r="3.2"/><text class="l r" x="236" y="423.3">martin.cuilla</text></g>
<g id="l..mims"><circle cx="229" cy="409" r="3.2"/><text class="l r" x="225" y="413.3">l..mims</text></g>
<g id="l..gay"><circle cx="218" cy="400" r="3.2"/><text class="l r" x="214" y="404">l..gay</text></g>
<g id="larry.may"><circle cx="208" cy="390" r="3.2"/><text class="l r" x="203" y="393">larry.may</text></g>
<g id="kevin.ruscitti"><circle cx="199" cy="378" r="3.2"/><text class="l r" x="193" y="382">kevin.ruscitti</text></g>
<g id="keith.holst"><circle cx="191" cy="366" r="3.2"/><text class="l r" x="185" y="369.3">keith.holst</text></g>
<g id="judy.townsend"><circle cx="185" cy="353" r="3.2"/><text class="l r" x="180" y="357.6">judy.townsend</text></g>
<g id="juan.hernandez"><circle cx="179" cy="340" r="3.2"/><text class="l r" x="174" y="344.6">juan.hernandez</text></g>
<g id="jonathan.mckay"><circle cx="175" cy="326" r="3.2"/><text class="l r" x="170" y="329">jonathan.mckay</text></g>
<g id="john.zufferi"><circle cx="172" cy="313" r="3.2"/><text class="l r" x="167" y="315">john.zufferi</text></g>
<g id="john.forney"><circle cx="171" cy="298" r="3.2"/><text class="l r" x="165" y="300.6">john.forney</text></g>
<g id="john.arnold"><circle cx="171" cy="285" r="3.2"/><text class="l r" x="165" y="287">john.arnold</text></g>
<g id="joe.quenet"><circle cx="172" cy="270" r="3.2"/><text class="l r" x="167" y="272.3">joe.quenet</text></g>
<g id="joe.parks"><circle cx="175" cy="257" r="3.2"/><text class="l r" x="170" y="259">joe.parks</text></g>
<g id="jim.schwieger"><circle cx="179" cy="243" r="3.2"/><text class="l r" x="174" y="245">jim.schwieger</text></g>
<g id="jeff.king"><circle cx="184" cy="229" r="3.2"/><text class="l r" x="178" y="232.3">jeff.king</text></g>
<g id="jay.reitmeyer"><circle cx="191" cy="217" r="3.2"/><text class="l r" x="186" y="218">jay.reitmeyer</text></g>
<g id="jane.tholt"><circle cx="199" cy="204" r="3.2"/><text class="l r" x="194" y="206.6">jane.tholt</text></g>
<g id="hunter.shively"><circle cx="208" cy="193" r="3.2"/><text class="l r" x="203" y="195">hunter.shively</text></g>
<g id="h..lewis"><circle cx="218" cy="182" r="3.2"/><text class="l r" x="212" y="184">h..lewis</text></g>
<g id="harry.arora"><circle cx="229" cy="173" r="3.2"/><text class="l r" x="225" y="175">harry.arora</text></g>
<g id="geoff.storey"><circle cx="240" cy="164" r="3.2"/><text class="l r" x="236" y="166.3">geoff.storey</text></g>
<g id="frank.ermis"><circle cx="253" cy="156" r="3.2"/><text class="l r" x="249" y="157.3">frank.ermis</text></g>
</g>

<!-- employees inside the rings -->
<g class="n">
<g id="john.lavorato"><circle cx="294" cy="224" r="3.2"/><text class="l r" x="291" y="224.3">john.lavorato</text></g>
<g id="james.steffes"><circle cx="417" cy="292" r="3.2"/><text class="l" x="401" y="300.6">james.steffes</text></g>
<g id="mike.grigsby"><circle cx="294" cy="359" r="3.2"/><text class="l" x="301" y="364">mike.grigsby</text></g>
<g id="k..allen"><circle cx="336" cy="292" r="3.2"/><rect x="314" y="299" width="38" height="13" fill="#fff" stroke="#444" stroke-width="0.9"/><text class="b m" x="333" y="308.6">k..allen</text></g>
</g>

<!-- callouts -->
<g id="callout-anomaly">
<path class="co" d="M319,173 H439 V255 H368 L338,287 L357,255 H319 Z"/>
<text class="ct" x="327" y="189.5">The analysis detected</text>
<text class="ct" x="327" y="201.2">an anomaly: a new e-</text>
<text class="ct" x="327" y="212.6">mail address for this</text>
<text class="ct" x="327" y="224.2">person, who had been</text>
<text class="ct" x="327" y="235.6">“phillip.allen” for 131</text>
<text class="ct" x="327" y="247.2">previous weeks.</text>
</g>
<g id="callout-leaders">
<path class="co" d="M30,463 H68 L86,442 L80,463 H158 V523 H30 Z"/>
<text class="cl" x="39" y="478.7">Company leaders e-mail</text>
<text class="cl" x="39" y="491.1">less frequently, leaving</text>
<text class="cl" x="39" y="502.1">some communication to</text>
<text class="cl" x="39" y="513.1">subordinates.</text>
</g>

<!-- title and credits -->
<g id="title">
<text class="ttl" x="58" y="558" textLength="113" lengthAdjust="spacingAndGlyphs">Finding Patterns</text>
<text class="ttl" x="58" y="573" textLength="142" lengthAdjust="spacingAndGlyphs">In Corporate Chatter</text>
</g>
<g id="credits">
<text class="src" x="578" y="492">Sources: Dr.</text>
<text class="src" x="578" y="500">Carey E. Priebe</text>
<text class="src" x="578" y="508">and Youngser</text>
<text class="src" x="578" y="516">Park, Johns</text>
<text class="src" x="578" y="524">Hopkins</text>
<text class="src" x="578" y="532">University</text>
</g>
</svg>
